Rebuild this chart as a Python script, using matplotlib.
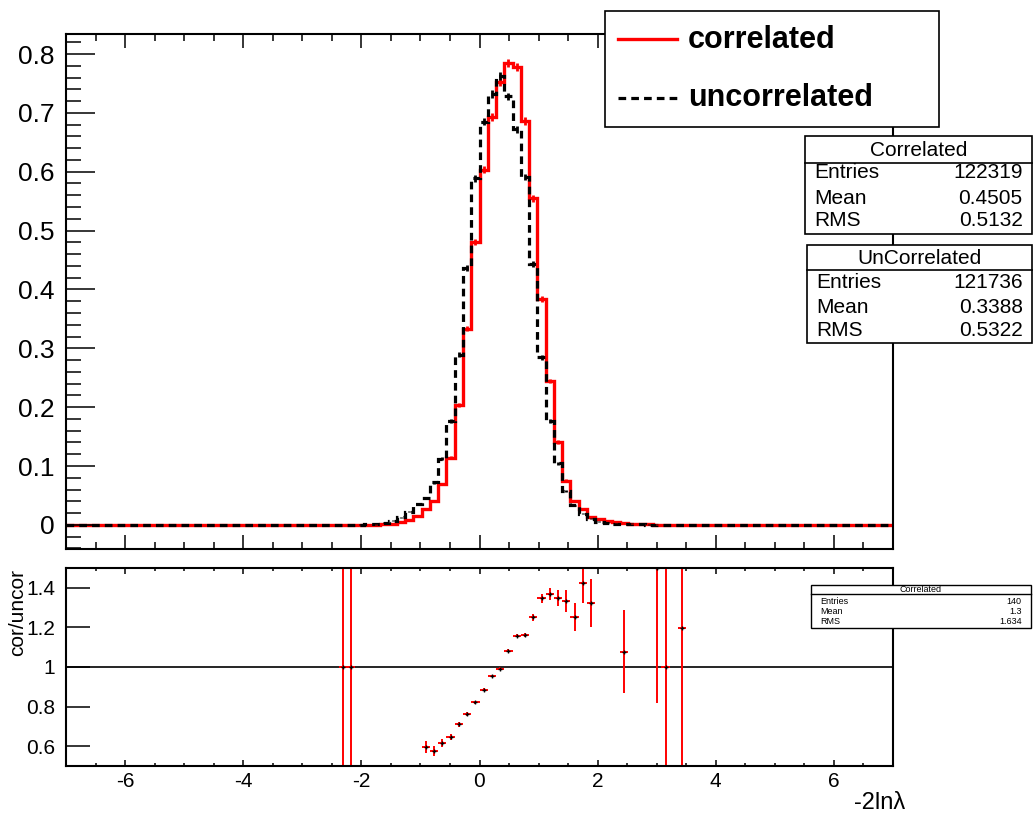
import matplotlib.pyplot as plt
from matplotlib.patches import Rectangle
from matplotlib.lines import Line2D
from matplotlib.ticker import MultipleLocator, FuncFormatter, NullLocator
import numpy as np

plt.rcParams['font.family'] = ['Liberation Sans', 'DejaVu Sans']

W, H = 1034, 815

# binning of both histograms
x_min, x_max, n_bins = -7.0, 7.0, 100

# correlated (red), normalised, starting at bin 34
first_bin_cor = 34
cor_values = [0.0001, 0.0002, 0.0003, 0.0006, 0.0012, 0.0023, 0.0045, 0.0085, 0.015, 0.027,
              0.041, 0.069, 0.114, 0.204, 0.333, 0.481, 0.603, 0.693, 0.753, 0.785,
              0.778, 0.686, 0.555, 0.384, 0.244, 0.141, 0.075, 0.041, 0.027, 0.014,
              0.0097, 0.0068, 0.0042, 0.0030, 0.0020, 0.0013, 0.0009, 0.0006, 0.0004, 0.0003,
              0.0002, 0.0001]

# uncorrelated (black dashed), starting at bin 30
first_bin_uncor = 30
uncor_values = [0.0001, 0.0002, 0.0002, 0.0003, 0.0004, 0.0006, 0.0012, 0.0023, 0.004, 0.0068,
                0.013, 0.0226, 0.035, 0.046, 0.072, 0.112, 0.177, 0.289, 0.437, 0.589,
                0.685, 0.732, 0.762, 0.728, 0.672, 0.591, 0.444, 0.285, 0.177, 0.105,
                0.057, 0.033, 0.019, 0.0107, 0.0057, 0.0040, 0.0023, 0.0015, 0.0010, 0.0007,
                0.0005, 0.0003, 0.0002, 0.0001]

n_cor = 122319
n_uncor = 121736

# ratio cor/uncor
ratio_x = [-2.31, -2.17, -0.91, -0.77, -0.63, -0.49, -0.35, -0.21, -0.07, 0.07,
           0.21, 0.35, 0.49, 0.63, 0.77, 0.91, 1.05, 1.19, 1.33, 1.47,
           1.61, 1.75, 1.89, 2.45, 3.01, 3.15, 3.43]
ratio_y = [1.0, 1.0, 0.596, 0.574, 0.614, 0.648, 0.711, 0.763, 0.822, 0.886,
           0.955, 0.992, 1.082, 1.158, 1.163, 1.252, 1.347, 1.367, 1.347, 1.332,
           1.252, 1.424, 1.324, 1.077, 1.5, 1.0, 1.196]
ratio_err = [1.41, 1.41, 0.032, 0.025, 0.02, 0.015, 0.012, 0.01, 0.008, 0.007,
             0.007, 0.007, 0.008, 0.009, 0.01, 0.018, 0.023, 0.03, 0.04, 0.056,
             0.07, 0.1, 0.12, 0.21, 0.68, 1.41, 1.2]

stats_cor = [('Entries', '122319'), ('Mean', '0.4505'), ('RMS', '0.5132')]
stats_uncor = [('Entries', '121736'), ('Mean', '0.3388'), ('RMS', '0.5322')]
stats_ratio = [('Entries', '140'), ('Mean', '1.3'), ('RMS', '1.634')]


def fx(px):
    return px / W


def fy(py):
    return 1 - py / H


def full_hist(first, values):
    h = np.zeros(n_bins)
    h[first:first + len(values)] = values
    return h


def stat_box(fig, x0, x1, y0, y1, ysep, title, ytitle, rows, yrows, size, lw=1.2):
    fig.add_artist(Rectangle((fx(x0), fy(y1)), fx(x1) - fx(x0), fy(y0) - fy(y1),
                             transform=fig.transFigure, fc='white', ec='black', lw=lw, zorder=5))
    fig.add_artist(Line2D([fx(x0), fx(x1)], [fy(ysep), fy(ysep)], transform=fig.transFigure,
                          color='black', lw=lw, zorder=6))
    fig.text(fx((x0 + x1) / 2), fy(ytitle), title, ha='center', va='center', fontsize=size, zorder=7)
    for (name, val), yr in zip(rows, yrows):
        fig.text(fx(x0) + 0.009, fy(yr), name, ha='left', va='center', fontsize=size, zorder=7)
        fig.text(fx(x1) - 0.009, fy(yr), val, ha='right', va='center', fontsize=size, zorder=7)


edges = np.linspace(x_min, x_max, n_bins + 1)
centers = 0.5 * (edges[1:] + edges[:-1])
bin_w = edges[1] - edges[0]
cor = full_hist(first_bin_cor, cor_values)
uncor = full_hist(first_bin_uncor, uncor_values)

fmt = FuncFormatter(lambda v, pos: f'{round(v, 6):g}')

fig = plt.figure(figsize=(W / 100, H / 100), dpi=100)

# ---- top panel
ax = fig.add_axes([fx(66), fy(549), fx(893) - fx(66), fy(34) - fy(549)])
ax.stairs(cor, edges, color='red', lw=2.4)
m = cor > 0
ax.errorbar(centers[m], cor[m], yerr=np.sqrt(cor[m] / (n_cor * bin_w)), fmt='none',
            ecolor='red', elinewidth=2.0)
ax.stairs(uncor, edges, color='black', lw=2.3, linestyle=(0, (2.4, 1.6)))
m = uncor > 0
ax.errorbar(centers[m], uncor[m], yerr=np.sqrt(uncor[m] / (n_uncor * bin_w)), fmt='none',
            ecolor='black', elinewidth=2.0)
ax.set_xlim(x_min, x_max)
ax.set_ylim(-0.041, 0.834)
ax.yaxis.set_major_locator(MultipleLocator(0.1))
ax.yaxis.set_minor_locator(MultipleLocator(0.02))
ax.xaxis.set_major_locator(MultipleLocator(2))
ax.xaxis.set_minor_locator(MultipleLocator(0.5))
ax.yaxis.set_major_formatter(fmt)
ax.tick_params(axis='both', which='both', direction='in', top=True, width=1.1)
ax.tick_params(axis='y', which='major', length=21, labelsize=19, pad=8)
ax.tick_params(axis='y', which='minor', length=11)
ax.tick_params(axis='x', which='major', length=10, labelbottom=False)
ax.tick_params(axis='x', which='minor', length=5)
for s in ax.spines.values():
    s.set_linewidth(1.5)

# ---- ratio panel
axr = fig.add_axes([fx(66), fy(766), fx(893) - fx(66), fy(568) - fy(766)])
axr.axhline(1.0, color='black', lw=1.2)
axr.errorbar(ratio_x, ratio_y, yerr=ratio_err, xerr=bin_w / 2, fmt='+', ms=3,
             mec='black', ecolor='red', elinewidth=1.4, capsize=0)
axr.set_xlim(x_min, x_max)
axr.set_ylim(0.5, 1.5)
axr.yaxis.set_major_locator(MultipleLocator(0.2))
axr.yaxis.set_minor_locator(NullLocator())
axr.xaxis.set_major_locator(MultipleLocator(2))
axr.xaxis.set_minor_locator(MultipleLocator(0.5))
axr.xaxis.set_major_formatter(fmt)
axr.yaxis.set_major_formatter(fmt)
axr.tick_params(axis='both', which='both', direction='in', top=True, width=1.1)
axr.tick_params(axis='y', which='major', length=17, labelsize=15, pad=8)
axr.tick_params(axis='x', which='major', length=4.5, labelsize=15, pad=4)
axr.tick_params(axis='x', which='minor', length=2.2)
for s in axr.spines.values():
    s.set_linewidth(1.5)

fig.text(fx(18), fy(612), 'cor/uncor', rotation=90, ha='center', va='center', fontsize=15)
fig.text(fx(905), fy(803), '-2ln\u03bb', ha='right', va='center', fontsize=17)

# ---- legend
fig.add_artist(Rectangle((fx(605), fy(127)), fx(939) - fx(605), fy(11) - fy(127),
                         transform=fig.transFigure, fc='white', ec='black', lw=1.2, zorder=5))
fig.add_artist(Line2D([fx(618), fx(677)], [fy(39), fy(39)], transform=fig.transFigure,
                      color='red', lw=2.4, zorder=6))
fig.add_artist(Line2D([fx(618), fx(677)], [fy(98), fy(98)], transform=fig.transFigure,
                      color='black', lw=2.3, linestyle=(0, (2.4, 1.6)), zorder=6))
fig.text(fx(688), fy(40), 'correlated', ha='left', va='center', fontsize=22,
         fontweight='bold', zorder=7)
fig.text(fx(688), fy(98), 'uncorrelated', ha='left', va='center', fontsize=22,
         fontweight='bold', zorder=7)

# ---- stat boxes
stat_box(fig, 805, 1032, 136, 234, 163, 'Correlated', 150, stats_cor, [173, 198, 221], 15)
stat_box(fig, 807, 1032, 245, 343, 270, 'UnCorrelated', 258, stats_uncor, [283, 307, 330], 15)
stat_box(fig, 811, 1031, 585, 628, 594, 'Correlated', 589.5, stats_ratio, [601, 612, 621], 6.5,
         lw=1.0)

fig.savefig('out.png', dpi=100)
